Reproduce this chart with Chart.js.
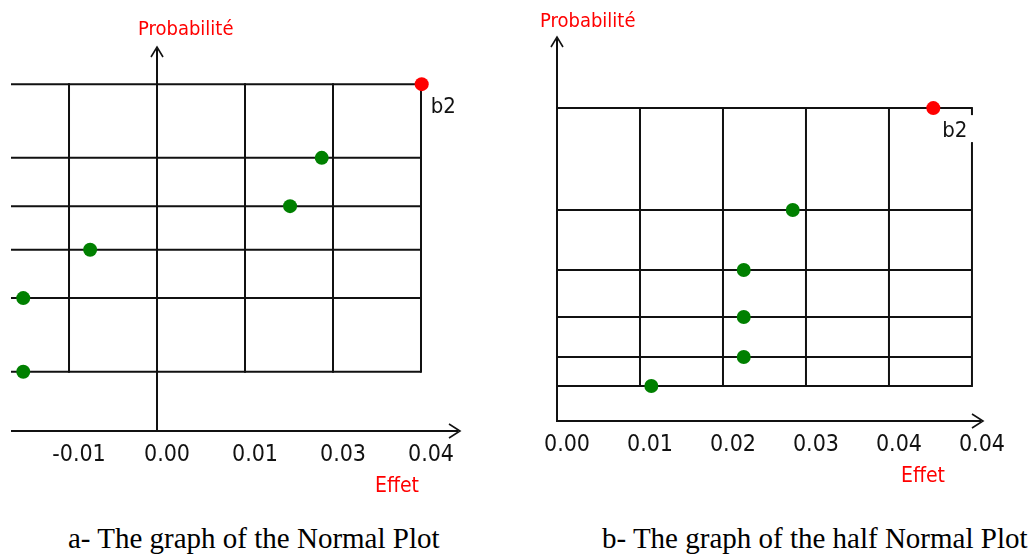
<!DOCTYPE html>
<html><head><meta charset="utf-8">
<script src="https://cdn.jsdelivr.net/npm/chart.js@4.4.1/dist/chart.umd.min.js"></script>
<style>
html,body{margin:0;padding:0;background:#fff;width:1035px;height:556px;overflow:hidden}
#a{position:absolute;left:0;top:0}
#b{position:absolute;left:520px;top:0}
.cap{position:absolute;font-family:'Liberation Serif','Times New Roman',serif;font-size:29px;color:#000;white-space:nowrap;line-height:1}
</style></head><body>
<canvas id="a" width="480" height="505"></canvas>
<canvas id="b" width="515" height="505"></canvas>
<div class="cap" style="left:68px;top:524px">a- The graph of the Normal Plot</div>
<div class="cap" style="left:602px;top:524px">b- The graph of the half Normal Plot</div>
<script>
// ---- data ----
// (a) Normal plot: effects vs normal scores
const leftEffects = [-0.0190, -0.0190, -0.0095, 0.0189, 0.0234, 0.0376];
const leftScores  = [-1.383, -0.674, -0.210, 0.210, 0.674, 1.383];
const leftNames   = ['', '', '', '', '', 'b2'];
const leftTickValues = [-0.0125, 0, 0.0125, 0.025, 0.0375];
const leftTickLabels = ['-0.01', '0.00', '0.01', '0.03', '0.04'];

// (b) Half normal plot: |effects| vs half-normal scores
const rightEffects = [0.0100, 0.0198, 0.0198, 0.0198, 0.0250, 0.0399];
const rightScores  = [0.199, 0.364, 0.591, 0.858, 1.199, 1.778];
const rightNames   = ['', '', '', '', '', 'b2'];
const rightTickValues = [0, 0.0088, 0.0176, 0.0264, 0.0352, 0.044];
const rightTickLabels = ['0.00', '0.01', '0.02', '0.03', '0.04', '0.04'];

const yTitle = 'Probabilité';
const xTitle = 'Effet';

const FONT = "'Liberation Sans Narrow','Arial Narrow','DejaVu Sans Condensed',sans-serif";
const GREEN = '#008000', RED = '#ff0000';

function makeChart(id, cfg) {
  const frame = {
    id: 'frame',
    beforeDatasetsDraw(chart) {
      const ctx = chart.ctx, x = chart.scales.x, y = chart.scales.y;
      const px = v => x.getPixelForValue(v), py = v => y.getPixelForValue(v);
      const line = (x1, y1, x2, y2) => { ctx.beginPath(); ctx.moveTo(x1, y1); ctx.lineTo(x2, y2); ctx.stroke(); };
      const top = Math.max(...cfg.scores), bot = Math.min(...cfg.scores);
      const lastTick = cfg.ticks[cfg.ticks.length - 1];
      ctx.save();
      ctx.strokeStyle = '#111'; ctx.lineWidth = 2;
      // horizontal rows at each score
      cfg.scores.forEach(s => line(px(cfg.xMin), py(s), px(lastTick), py(s)));
      // vertical grid lines
      cfg.ticks.forEach((t, i) => {
        if (t === 0) return;
        if (i === cfg.ticks.length - 1 && cfg.edgeGap) {
          line(px(t), py(top) - 1, px(t), py(top) + cfg.edgeGap[0]);
          line(px(t), py(top) + cfg.edgeGap[1], px(t), py(bot) + 1);
        } else {
          line(px(t), py(top) - 1, px(t), py(bot) + 1);
        }
      });
      // axes
      line(px(0), py(cfg.yMin) + 1, px(0), py(cfg.yMax) + 2);
      line(px(cfg.xMin), py(cfg.yMin), px(cfg.xMax) - 2, py(cfg.yMin));
      // arrow heads
      ctx.lineWidth = 1.6;
      const ax = px(0), ay = py(cfg.yMax);
      ctx.beginPath(); ctx.moveTo(ax - 6, ay + 10); ctx.lineTo(ax, ay); ctx.lineTo(ax + 6, ay + 10); ctx.stroke();
      const bx = px(cfg.xMax), by = py(cfg.yMin);
      ctx.beginPath(); ctx.moveTo(bx - 11, by - 7); ctx.lineTo(bx, by); ctx.lineTo(bx - 11, by + 7); ctx.stroke();
      ctx.restore();
    },
    afterDatasetsDraw(chart) {
      const ctx = chart.ctx, x = chart.scales.x, y = chart.scales.y;
      const px = v => x.getPixelForValue(v), py = v => y.getPixelForValue(v);
      ctx.save();
      ctx.textBaseline = 'alphabetic'; ctx.textAlign = 'left';
      ctx.fillStyle = RED;
      ctx.font = '20px ' + FONT;
      ctx.fillText(yTitle, px(0) + cfg.probDx, py(cfg.yMax) + cfg.probDy);
      ctx.font = '21px ' + FONT;
      ctx.fillText(xTitle, px(cfg.xMax) + cfg.effDx, py(cfg.yMin) + 61);
      ctx.fillStyle = '#111';
      ctx.font = '22px ' + FONT;
      cfg.names.forEach((n, i) => {
        if (n) ctx.fillText(n, px(cfg.effects[i]) + 9, py(cfg.scores[i]) + 29);
      });
      ctx.restore();
    }
  };
  const pts = cfg.effects.map((e, i) => ({ x: e, y: cfg.scores[i] }));
  return new Chart(document.getElementById(id), {
    type: 'scatter',
    data: { datasets: [{
      data: pts,
      pointRadius: 7, pointHoverRadius: 7, pointBorderWidth: 0,
      pointBackgroundColor: c => cfg.names[c.dataIndex] ? RED : GREEN,
      pointBorderColor: c => cfg.names[c.dataIndex] ? RED : GREEN
    }] },
    options: {
      responsive: false, animation: false, devicePixelRatio: 1,
      layout: { padding: cfg.padding },
      plugins: { legend: { display: false }, tooltip: { enabled: false } },
      scales: {
        x: {
          type: 'linear', position: 'bottom', min: cfg.xMin, max: cfg.xMax,
          grid: { display: false, drawTicks: false }, border: { display: false },
          afterBuildTicks: s => { s.ticks = cfg.ticks.map(v => ({ value: v })); },
          afterFit: s => { s.height = cfg.axisHeight; },
          ticks: {
            autoSkip: false, maxRotation: 0, minRotation: 0, labelOffset: 10, padding: 10,
            color: '#111', font: { family: FONT, size: 23 },
            callback: (v, i) => cfg.tickLabels[i]
          }
        },
        y: { type: 'linear', display: false, min: cfg.yMin, max: cfg.yMax }
      }
    },
    plugins: [frame]
  });
}

makeChart('a', {
  effects: leftEffects, scores: leftScores, names: leftNames,
  ticks: leftTickValues, tickLabels: leftTickLabels,
  xMin: -0.02074, xMax: 0.04304, yMin: -1.952, yMax: 1.740,
  padding: { left: 11, right: 20, top: 47, bottom: 0 }, axisHeight: 74,
  probDx: -19, probDy: -12, effDx: -85, edgeGap: null
});
makeChart('b', {
  effects: rightEffects, scores: rightScores, names: rightNames,
  ticks: rightTickValues, tickLabels: rightTickLabels,
  xMin: 0, xMax: 0.04517, yMin: 0, yMax: 2.182,
  padding: { left: 37, right: 52, top: 37, bottom: 0 }, axisHeight: 84,
  probDx: -17, probDy: -10, effDx: -82, edgeGap: [7, 34]
});
</script>
</body></html>
